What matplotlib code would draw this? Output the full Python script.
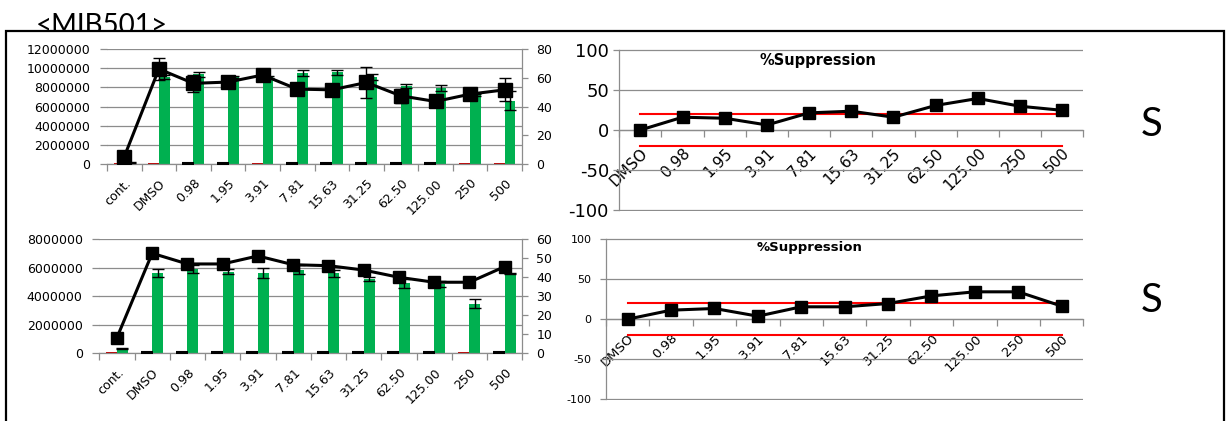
import numpy as np
import matplotlib
matplotlib.use("Agg")
import matplotlib.pyplot as plt
from matplotlib.patches import Rectangle
from matplotlib.ticker import FuncFormatter
from matplotlib.transforms import Bbox, TransformedBbox

plt.rcParams['font.family'] = ['DejaVu Sans']
plt.rcParams['axes.unicode_minus'] = False

# ---------------- data ----------------
categories = ['cont.', 'DMSO', '0.98', '1.95', '3.91', '7.81', '15.63',
              '31.25', '62.50', '125.00', '250', '500']
supp_categories = categories[1:]

# upper assay: luminescence bars (left axis) and viability line (right axis)
top_red = [0.12e6, 0.12e6, 0.08e6, 0.08e6, 0.12e6, 0.08e6, 0.08e6, 0.08e6,
           0.08e6, 0.08e6, 0.12e6, 0.12e6]
top_red_err = [0, 0, 0.03e6, 0.03e6, 0, 0.03e6, 0.03e6, 0.03e6, 0.03e6, 0.03e6, 0, 0]
top_green = [0.15e6, 9.05e6, 9.35e6, 9.1e6, 9.1e6, 9.5e6, 9.55e6, 9.1e6,
             8.1e6, 7.9e6, 7.2e6, 6.6e6]
top_green_err = [0.02e6, 0.2e6, 0.25e6, 0.1e6, 0.1e6, 0.35e6, 0.3e6, 0.3e6,
                 0.2e6, 0.3e6, 0.1e6, 1.0e6]
top_line = [5.1, 66.1, 56.1, 57.0, 61.9, 52.1, 51.6, 56.7, 47.4, 43.5, 48.6, 51.6]
top_line_err = [0.5, 7.4, 5.8, 1.5, 1.0, 1.5, 1.0, 10.7, 5.0, 2.0, 2.0, 8.0]

# lower assay
bot_red = [0.1e6, 0.07e6, 0.07e6, 0.07e6, 0.07e6, 0.07e6, 0.07e6, 0.07e6,
           0.07e6, 0.07e6, 0.1e6, 0.07e6]
bot_red_err = [0, 0.02e6, 0.02e6, 0.02e6, 0.02e6, 0.02e6, 0.02e6, 0.02e6,
               0.02e6, 0.02e6, 0, 0.02e6]
bot_green = [0.35e6, 5.62e6, 5.9e6, 5.72e6, 5.6e6, 5.85e6, 5.6e6, 5.2e6,
             4.9e6, 4.85e6, 3.47e6, 5.6e6]
bot_green_err = [0.05e6, 0.26e6, 0.3e6, 0.2e6, 0.35e6, 0.3e6, 0.25e6, 0.12e6,
                 0.3e6, 0.2e6, 0.33e6, 0.05e6]
bot_line = [8.2, 52.5, 46.9, 46.9, 51.1, 46.5, 46.0, 43.7, 39.9, 37.3, 37.3, 45.5]
bot_line_err = [0.3, 0.5, 0.5, 0.5, 0.5, 0.5, 0.5, 0.5, 0.5, 0.5, 0.5, 0.5]

# %Suppression relative to DMSO
top_supp = [0, 16.0, 14.7, 6.3, 21.4, 23.5, 16.0, 30.7, 39.4, 29.7, 24.6]
bot_supp = [0, 11.2, 13.3, 3.7, 15.4, 15.4, 19.5, 29.0, 34.1, 34.1, 16.3]
upper_limit = 20
lower_limit = -20

# ---------------- figure ----------------
W, H = 1227, 421
fig = plt.figure(figsize=(W / 100, H / 100), dpi=100)
fig.patch.set_facecolor('white')

GRID = '#8c8c8c'
GREEN = '#00b050'
RED = '#c00000'


def box(l, t, r, b):
    return [l / W, 1 - b / H, (r - l) / W, (b - t) / H]


def bar_panel(rect, red, red_err, green, green_err, line, line_err,
              ymax, ystep, rmax, rstep, msize):
    ax = fig.add_axes(rect)
    n = len(categories)
    x = np.arange(n)
    w = 0.31
    red = np.asarray(red); red_err = np.asarray(red_err)
    green = np.asarray(green); green_err = np.asarray(green_err)
    ax.bar(x - w / 2, red, w, color=RED, zorder=2)
    m = red_err > 0
    ax.errorbar((x - w / 2)[m], red[m], yerr=red_err[m], fmt='none',
                ecolor='black', elinewidth=1, capsize=4, capthick=1.5, zorder=3)
    ax.bar(x + w / 2, green, w, color=GREEN, zorder=2)
    ax.errorbar(x + w / 2, green, yerr=green_err, fmt='none',
                ecolor='black', elinewidth=1, capsize=4, capthick=1, zorder=3)
    ax.set_xlim(-0.5, n - 0.5)
    ax.set_ylim(0, ymax)
    ax.set_yticks(np.arange(0, ymax + 1, ystep))
    ax.yaxis.set_major_formatter(FuncFormatter(lambda v, p: f'{v:.0f}'))
    ax.grid(axis='y', color=GRID, lw=0.9, zorder=0)
    ax.set_axisbelow(True)
    for s in ['top', 'right', 'left']:
        ax.spines[s].set_visible(False)
    ax.spines['bottom'].set_color(GRID)
    ax.spines['bottom'].set_linewidth(0.9)
    ax.tick_params(axis='y', length=5, width=0.9, color=GRID, labelsize=9, pad=7)
    ax.set_xticks(x)
    ax.set_xticklabels(categories, rotation=45, ha='right',
                       rotation_mode='anchor', fontsize=9)
    ax.set_xticks(np.arange(-0.5, n), minor=True)
    ax.tick_params(axis='x', which='major', length=0, pad=9)
    ax.tick_params(axis='x', which='minor', length=5, width=0.9, color=GRID)

    ax2 = ax.twinx()
    ax2.set_ylim(0, rmax)
    ax2.set_yticks(np.arange(0, rmax + 1, rstep))
    for s in ['top', 'left', 'bottom']:
        ax2.spines[s].set_visible(False)
    ax2.spines['right'].set_color(GRID)
    ax2.spines['right'].set_linewidth(0.9)
    ax2.tick_params(axis='y', length=4, width=0.9, color=GRID, labelsize=9, pad=6)
    ax2.errorbar(x, line, yerr=line_err, color='black', lw=2.2, marker='s',
                 ms=msize, capsize=4.5, elinewidth=1, capthick=1, zorder=4)
    return ax, ax2


def supp_panel(rect, values, ylab_size, xlab_size, msize, pad_y, pad_x):
    ax = fig.add_axes(rect)
    n = len(supp_categories)
    x = np.arange(n)
    ax.set_xlim(-0.5, n - 0.5)
    ax.set_ylim(-101, 101)
    ax.set_yticks([-100, -50, 0, 50, 100])
    ax.grid(axis='y', color=GRID, lw=0.9, zorder=0)
    ax.set_axisbelow(True)
    ax.spines['top'].set_visible(False)
    ax.spines['right'].set_visible(False)
    ax.spines['left'].set_color(GRID)
    ax.spines['left'].set_linewidth(0.9)
    ax.spines['left'].set_bounds(-100, 100)
    ax.spines['bottom'].set_position(('data', 0))
    ax.spines['bottom'].set_color(GRID)
    ax.spines['bottom'].set_linewidth(0.9)
    ax.tick_params(axis='y', length=4.5, width=0.9, color=GRID,
                   labelsize=ylab_size, pad=pad_y)
    ax.set_xticks(x)
    ax.set_xticklabels(supp_categories, rotation=45, ha='right',
                       rotation_mode='anchor', fontsize=xlab_size)
    ax.set_xticks(np.arange(-0.5, n), minor=True)
    ax.tick_params(axis='x', which='major', length=0, pad=pad_x)
    ax.tick_params(axis='x', which='minor', length=5, width=0.9, color=GRID)
    ax.plot(x, [upper_limit] * n, color='#ff0000', lw=1.5, zorder=3)
    ax.plot(x, [lower_limit] * n, color='#ff0000', lw=1.5, zorder=3)
    ax.plot(x, values, color='black', lw=2.2, marker='s', ms=msize, zorder=4)
    return ax


bar_panel(box(107, 49, 522, 164), top_red, top_red_err, top_green, top_green_err,
          top_line, top_line_err, 12e6, 2e6, 80, 20, 10.5)
bar_panel(box(99.3, 239, 522.3, 353.3), bot_red, bot_red_err, bot_green, bot_green_err,
          bot_line, bot_line_err, 8e6, 2e6, 60, 10, 8.5)

supp_panel(box(619.3, 49.2, 1083.3, 210.8), top_supp, 13, 11, 9, 3, 11)
supp_panel(box(606, 238.2, 1083.3, 400.1), bot_supp, 8, 9.5, 8.5, 6, 9)

fig.text(817.7 / W, 1 - 60.7 / H, '%Suppression', fontsize=10.5,
         fontweight='bold', ha='center', va='center')
fig.text(810 / W, 1 - 248 / H, '%Suppression', fontsize=9.5,
         fontweight='bold', ha='center', va='center')

fig.text(1152 / W, 1 - 125 / H, 'S', fontsize=29, family='Lato',
         ha='center', va='center')
fig.text(1152 / W, 1 - 300 / H, 'S', fontsize=29, family='Lato',
         ha='center', va='center')

# sample label, partly hidden behind the frame
label = fig.text(36 / W, 1 - 34 / H, '<MIB501>', fontsize=20, family='Lato',
                 ha='left', va='baseline')
label.set_clip_box(TransformedBbox(Bbox([[0, 1 - 31 / H], [1, 1]]), fig.transFigure))
label.set_clip_on(True)

fig.add_artist(Rectangle((6 / W, -0.05), (1224 - 6) / W, 1 - 30.5 / H + 0.05,
                         transform=fig.transFigure, fill=False,
                         edgecolor='black', lw=1.6, zorder=10))

fig.savefig('out.png', dpi=100, facecolor='white')
